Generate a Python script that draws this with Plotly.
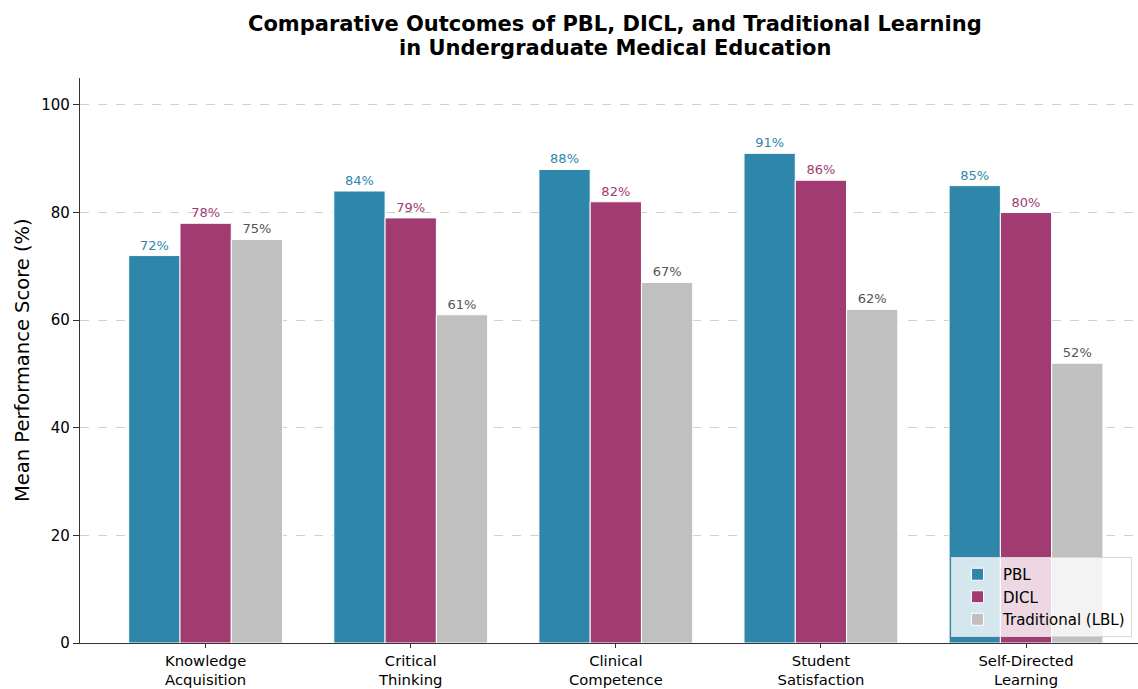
import plotly.graph_objects as go

categories = ["Knowledge<br>Acquisition", "Critical<br>Thinking", "Clinical<br>Competence",
              "Student<br>Satisfaction", "Self-Directed<br>Learning"]
pbl = [72, 84, 88, 91, 85]
dicl = [78, 79, 82, 86, 80]
trad = [75, 61, 67, 62, 52]

series = [
    ("PBL", pbl, "#2E86AB", "#2E86AB"),
    ("DICL", dicl, "#A23B72", "#A23B72"),
    ("Traditional (LBL)", trad, "#C0C0C0", "#555555"),
]

fig = go.Figure()
for name, vals, col, tcol in series:
    fig.add_trace(go.Bar(
        x=list(range(len(categories))), y=vals, name=name,
        marker=dict(color=col, line=dict(color="white", width=1)),
        text=[f"{v}%" for v in vals], textposition="outside",
        textfont=dict(color=tcol, size=13, family="DejaVu Sans"),
        cliponaxis=False,
    ))

W, H = 1138, 689
L, R, T, B = 80, 0, 78, 46
PW, PH = W - L - R, H - T - B

def px_x(p):
    return (p - L) / PW

def px_y(p):
    return (H - B - p) / PH

fig.update_layout(
    width=W, height=H,
    margin=dict(l=L, r=R, t=T, b=B),
    paper_bgcolor="white", plot_bgcolor="white",
    barmode="group", bargap=0.25, bargroupgap=0,
    font=dict(family="DejaVu Sans", size=15, color="black"),
    legend=dict(x=px_x(951), xanchor="left", y=px_y(557), yanchor="top",
                bgcolor="rgba(255,255,255,0.8)", bordercolor="#d8d8d8", borderwidth=1,
                font=dict(size=15), itemwidth=41),
    showlegend=True,
    annotations=[
        dict(text="<b>Comparative Outcomes of PBL, DICL, and Traditional Learning</b>",
             xref="paper", yref="paper", x=px_x(615), y=px_y(24), xanchor="center", yanchor="middle",
             showarrow=False, font=dict(size=21, color="black")),
        dict(text="<b>in Undergraduate Medical Education</b>",
             xref="paper", yref="paper", x=px_x(615), y=px_y(48), xanchor="center", yanchor="middle",
             showarrow=False, font=dict(size=21, color="black")),
        dict(text="Mean Performance Score (%)", textangle=-90,
             xref="paper", yref="paper", x=px_x(22), y=px_y(360), xanchor="center", yanchor="middle",
             showarrow=False, font=dict(size=19.5, color="black")),
    ],
)
fig.update_xaxes(
    range=[-0.6125, 4.546], tickmode="array", tickvals=list(range(len(categories))),
    ticktext=categories, showline=True, linecolor="#333333", linewidth=1.2,
    ticks="outside", ticklen=4, tickcolor="#333333", showgrid=False, zeroline=False,
    tickfont=dict(size=14.8), automargin=False,
)
fig.update_yaxes(
    range=[0, 105], tickvals=[0, 20, 40, 60, 80, 100], showline=True, linecolor="#333333",
    linewidth=1.2, ticks="outside", ticklen=6, tickcolor="#333333",
    showgrid=True, gridcolor="#d0d0d0", griddash="dash", gridwidth=1, zeroline=False,
    tickfont=dict(size=15), automargin=False,
)
fig.write_html("out.html")
